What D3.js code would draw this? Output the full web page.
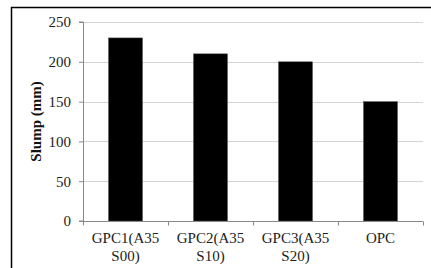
<!DOCTYPE html>
<html>
<head>
<meta charset="utf-8">
<script src="https://cdn.jsdelivr.net/npm/d3@7"></script>
<style>
  body { margin: 0; background: #fff; }
  text { font-family: "Liberation Serif", "Times New Roman", serif; }
</style>
</head>
<body>
<div id="chart"></div>
<script>
// data
var categories = ["GPC1(A35 S00)", "GPC2(A35 S10)", "GPC3(A35 S20)", "OPC"];
var labelLines = [["GPC1(A35", "S00)"], ["GPC2(A35", "S10)"], ["GPC3(A35", "S20)"], ["OPC"]];
var slump = [230, 210, 200, 150];
var yTicks = [0, 50, 100, 150, 200, 250];

var svgWidth = 431;
var svgHeight = 268;

var margin = { top: 22, right: 8, bottom: 47, left: 83 };
var width = 423 - margin.left;
var height = 221 - margin.top;

var svg = d3.select("#chart")
  .append("svg")
  .attr("width", svgWidth)
  .attr("height", svgHeight);

// outer frame (cut off at right and bottom)
svg.append("path")
  .attr("d", "M11.5,270 V7.5 H433")
  .attr("fill", "none")
  .attr("stroke", "#000")
  .attr("stroke-width", 1.5);

var chartGroup = svg.append("g")
  .attr("transform", `translate(${margin.left}, ${margin.top})`);

var x = d3.scaleBand()
  .domain(categories)
  .range([0, width])
  .paddingInner(0.6)
  .paddingOuter(0.3);

var y = d3.scaleLinear()
  .domain([0, 250])
  .range([height, 0]);

// gridlines
chartGroup.selectAll("line.grid")
  .data(yTicks.filter(d => d > 0))
  .enter()
  .append("line")
  .attr("class", "grid")
  .attr("x1", 0)
  .attr("x2", width)
  .attr("y1", d => Math.round(y(d)) + 0.5)
  .attr("y2", d => Math.round(y(d)) + 0.5)
  .attr("stroke", "#d4d4d4")
  .attr("stroke-width", 1);

// bars
chartGroup.selectAll("rect.bar")
  .data(slump)
  .enter()
  .append("rect")
  .attr("class", "bar")
  .attr("x", (d, i) => x(categories[i]))
  .attr("y", d => y(d))
  .attr("width", x.bandwidth())
  .attr("height", d => height - y(d))
  .attr("fill", "#000")
  .attr("stroke", "#555")
  .attr("stroke-width", 0.5);

// y axis
var leftAxis = d3.axisLeft(y).tickValues(yTicks).tickSize(4).tickPadding(8);
var yAxisG = chartGroup.append("g").call(leftAxis);
yAxisG.select(".domain").attr("stroke", "#888").attr("d", `M-4,${y(250)}H0.5V${height}H-4`);
yAxisG.selectAll(".tick line").attr("stroke", "#888").attr("x1", 0.5);
yAxisG.selectAll(".tick text")
  .attr("font-size", 15)
  .attr("font-family", "Liberation Serif, Times New Roman, serif")
  .attr("fill", "#222");

// x axis
var bottomAxis = d3.axisBottom(x).tickSize(0).tickFormat("");
var xAxisG = chartGroup.append("g")
  .attr("transform", `translate(0, ${height + 0.5})`)
  .call(bottomAxis);
xAxisG.select(".domain").attr("stroke", "#888").attr("d", `M0,0H${width}`);

// category separator ticks
var sepX = d3.range(categories.length + 1).map(i => i * x.step());
xAxisG.selectAll("line.sep")
  .data(sepX)
  .enter()
  .append("line")
  .attr("class", "sep")
  .attr("x1", d => Math.round(d) + 0.5)
  .attr("x2", d => Math.round(d) + 0.5)
  .attr("y1", 0)
  .attr("y2", 4)
  .attr("stroke", "#888");

// category labels
categories.forEach(function(c, i) {
  var t = chartGroup.append("text")
    .attr("x", x(c) + x.bandwidth() / 2)
    .attr("y", height + 22)
    .attr("text-anchor", "middle")
    .attr("font-size", 15)
    .attr("fill", "#222");
  labelLines[i].forEach(function(line, j) {
    t.append("tspan")
      .attr("x", x(c) + x.bandwidth() / 2)
      .attr("dy", j === 0 ? 0 : 18)
      .text(line);
  });
});

// y axis title
svg.append("text")
  .attr("transform", "rotate(-90)")
  .attr("x", -(margin.top + height / 2))
  .attr("y", 41)
  .attr("text-anchor", "middle")
  .attr("font-size", 15)
  .attr("font-weight", "bold")
  .attr("fill", "#111")
  .text("Slump (mm)");
</script>
</body>
</html>
